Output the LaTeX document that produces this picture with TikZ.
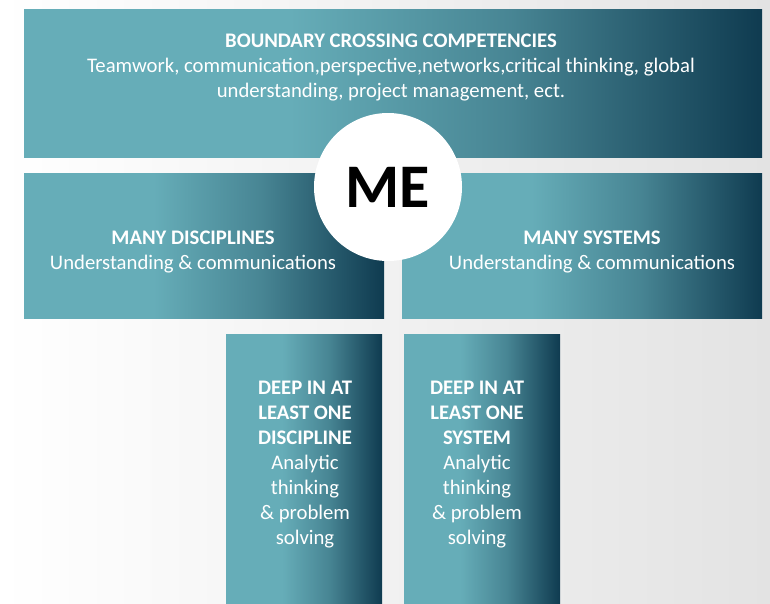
\documentclass[tikz,border=0pt]{standalone}
\usepackage{fontspec}
\setmainfont{Carlito}
\definecolor{tealL}{HTML}{66ADB8}
\definecolor{tealD}{HTML}{0F3B50}
\definecolor{bgGrey}{HTML}{E3E3E3}
\pgfdeclarehorizontalshading{tealshade}{100bp}{color(0bp)=(tealL); color(25bp)=(tealL); color(43bp)=(tealL); color(58bp)=(tealL!65!tealD); color(75bp)=(tealD); color(100bp)=(tealD)}

\tikzset{
  panel/.style={shading=tealshade, inner sep=0pt, outer sep=0pt},
  label/.style={text=white, align=center, font=\fontsize{20.7}{25}\selectfont},
}

\begin{document}
\begin{tikzpicture}[x=1pt,y=-1pt]

         % background
         \shade[left color=white, right color=bgGrey] (0,0) rectangle (770,603);
         \useasboundingbox (0,0) rectangle (770,603);

         % panels
         \shade[panel] (24,9) rectangle (762,157);
         \shade[panel] (24,173) rectangle (384,318);
         \shade[panel] (402,173) rectangle (762,318);
         \shade[panel] (226,334) rectangle (382,603);
         \shade[panel] (404,334) rectangle (560,603);

         \node[label] at (391,67) (bc) {\textbf{BOUNDARY CROSSING COMPETENCIES}\\Teamwork, communication,perspective,networks,critical thinking, global\\understanding, project management, ect.};
         \node[label] at (193,252) (md) {\textbf{MANY DISCIPLINES}\\Understanding \& communications};
         \node[label] at (592,252) (ms) {\textbf{MANY SYSTEMS}\\Understanding \& communications};
         \node[label] at (305,465) (dd) {\textbf{DEEP IN AT}\\\textbf{LEAST ONE}\\\textbf{DISCIPLINE}\\Analytic\\thinking\\\& problem\\solving};
         \node[label] at (477,465) (ds) {\textbf{DEEP IN AT}\\\textbf{LEAST ONE}\\\textbf{SYSTEM}\\Analytic\\thinking\\\& problem\\solving};

         \node[circle, fill=white, minimum size=148pt, inner sep=0pt] at (388,187) (me) {};
         \node at (me) {\fontsize{62}{62}\selectfont\bfseries ME};
      \end{tikzpicture}
\end{document}
